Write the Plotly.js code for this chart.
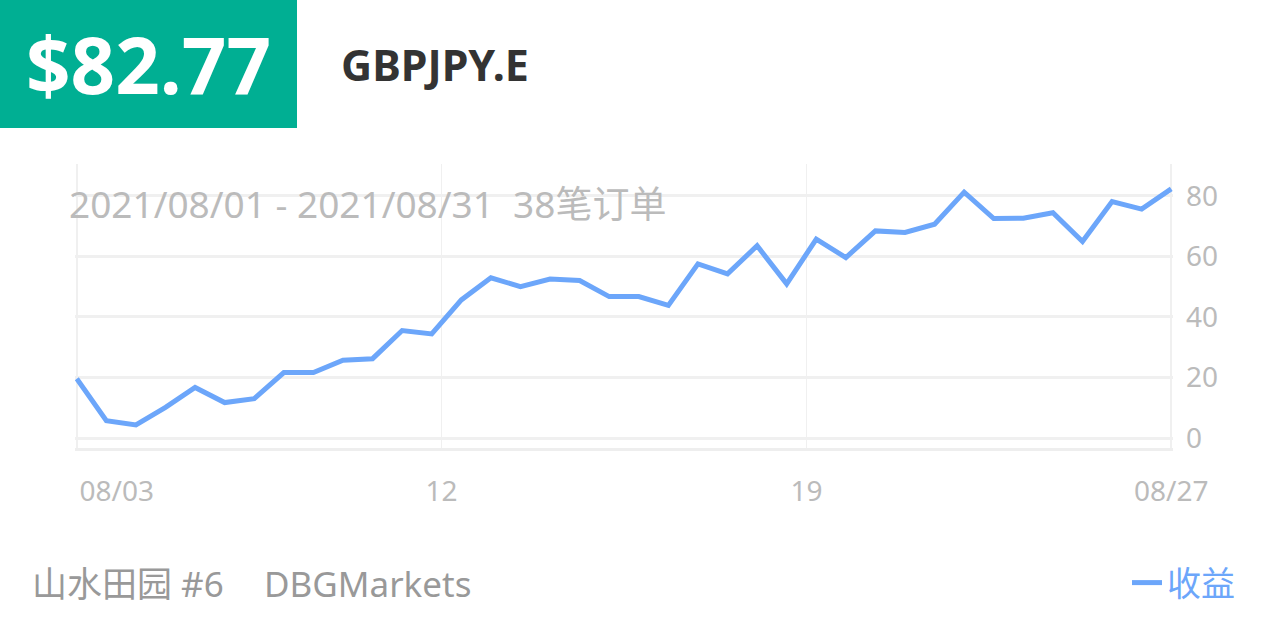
<!DOCTYPE html>
<html>
<head>
<meta charset="utf-8">
<script src="https://cdn.plot.ly/plotly-3.0.1.min.js"></script>
<style>html,body{margin:0;padding:0;background:#fff;}#chart{width:1266px;height:633px;}</style>
</head>
<body>
<div id="chart"></div>
<script>
// Data
const orderIndex = [0,1,2,3,4,5,6,7,8,9,10,11,12,13,14,15,16,17,18,19,20,21,22,23,24,25,26,27,28,29,30,31,32,33,34,35,36,37];
const profit = [19.6,5.7,4.3,10.1,16.7,11.7,13.0,21.6,21.6,25.7,26.2,35.5,34.4,45.6,52.9,50.0,52.5,52.0,46.7,46.7,43.8,57.5,54.2,63.5,50.9,65.7,59.6,68.4,67.9,70.6,81.2,72.5,72.6,74.4,64.9,78.1,75.6,82.3];
const tickLabels = ["08/03","12","19","08/27"];
const yTicks = [0,20,40,60,80];
const seriesName = "收益";
const priceText = "$82.77";
const symbolText = "GBPJPY.E";
const subtitleText = "2021/08/01 - 2021/08/31\u00a0\u00a038笔订单";
const accountText = "山水田园 #6";
const brokerText = "DBGMarkets";

const n = orderIndex.length - 1;
const gridTickPos = [0, n/3, 2*n/3, n];
const labelTickPos = [1.35, n/3, 2*n/3, n];
const FONT = "Noto Sans, Open Sans, Noto Sans CJK SC, sans-serif";
const LINE = "#6ca6fa";
const xr = [-0.06, n + 0.06];
const PW = 1098, PH = 284, L = 75, B = 448;
const px = v => (v - L) / PW;
const py = v => (B - v) / PH;

const traces = [
  {x: orderIndex, y: profit, type: "scatter", mode: "lines", name: seriesName,
   line: {color: LINE, width: 5}, hoverinfo: "skip", showlegend: true},
  {x: [0, n], y: [0, 0], xaxis: "x2", type: "scatter", mode: "lines",
   line: {width: 0, color: "rgba(0,0,0,0)"}, showlegend: false, hoverinfo: "skip"}
];

const layout = {
  width: 1266, height: 633,
  margin: {l: 75, r: 93, t: 164, b: 185, autoexpand: false},
  paper_bgcolor: "#fff", plot_bgcolor: "#fff",
  font: {family: FONT, color: "#bbbbbb"},
  title: {text: subtitleText, xref: "container", yref: "container",
          x: 69/1266, xanchor: "left", y: 1 - 205/633, yanchor: "middle",
          font: {size: 37, color: "#bbbbbb", family: FONT}},
  xaxis: {range: xr, tickvals: gridTickPos, showticklabels: false,
          showgrid: true, gridcolor: "#f0f0f0", gridwidth: 1.5,
          zeroline: false, showline: true, linecolor: "#eeeeee", linewidth: 3,
          ticks: "", fixedrange: true, automargin: false},
  xaxis2: {overlaying: "x", anchor: "y", side: "bottom", range: xr,
           tickvals: labelTickPos, ticktext: tickLabels, showgrid: false,
           zeroline: false, showline: false, ticks: "", automargin: false,
           ticklabelstandoff: 24,
           tickfont: {size: 28, color: "#bbbbbb", family: FONT}},
  yaxis: {range: [-3.3, 90.5], side: "right", tickvals: yTicks,
          showgrid: true, gridcolor: "#f0f0f0", gridwidth: 3,
          zeroline: false, ticks: "", ticklabelstandoff: 12, automargin: false,
          tickfont: {size: 28, color: "#bbbbbb", family: FONT}},
  showlegend: true,
  legend: {xref: "container", yref: "container", x: 1240/1266, xanchor: "right",
           y: 1 - 583/633, yanchor: "middle", bgcolor: "rgba(0,0,0,0)",
           font: {size: 34, color: LINE, family: FONT}, itemwidth: 30},
  shapes: [
    {type: "rect", xref: "paper", yref: "paper",
     x0: px(-5), x1: px(297), y0: py(128), y1: py(-5),
     fillcolor: "#00af93", line: {width: 0}, layer: "above"}
  ],
  annotations: [
    {text: "<b>" + priceText + "</b>", xref: "paper", yref: "paper",
     x: px(148), y: py(64), xanchor: "center", yanchor: "middle",
     showarrow: false, font: {size: 78, color: "#ffffff", family: FONT}},
    {text: "<b>" + symbolText + "</b>", xref: "paper", yref: "paper",
     x: px(339), y: py(64), xanchor: "left", yanchor: "middle",
     showarrow: false, font: {size: 43, color: "#333333", family: FONT}},
    {text: accountText, xref: "paper", yref: "paper",
     x: px(30), y: py(583), xanchor: "left", yanchor: "middle",
     showarrow: false, font: {size: 35, color: "#999999", family: FONT}},
    {text: brokerText, xref: "paper", yref: "paper",
     x: px(262), y: py(583), xanchor: "left", yanchor: "middle",
     showarrow: false, font: {size: 35, color: "#999999", family: FONT}}
  ]
};

Plotly.newPlot("chart", traces, layout, {displayModeBar: false, staticPlot: true});
</script>
</body>
</html>
